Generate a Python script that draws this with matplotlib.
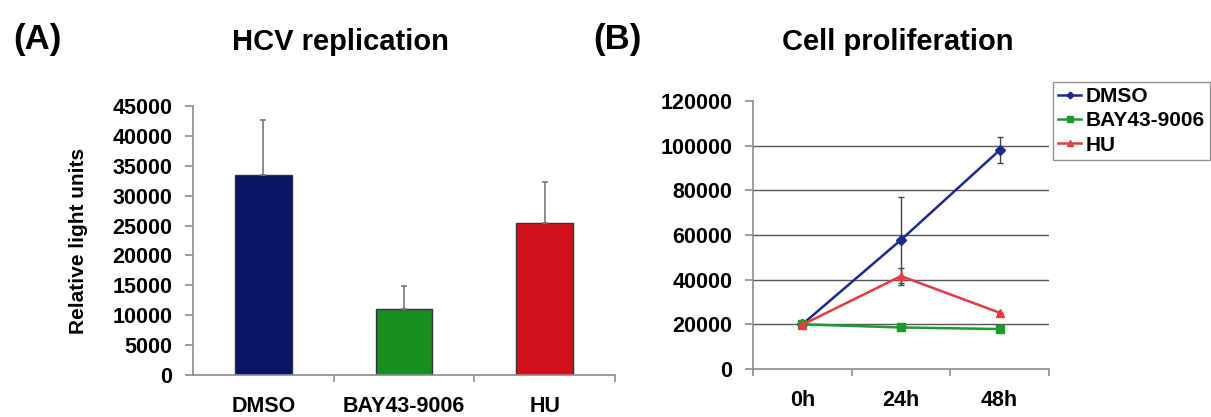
import matplotlib
matplotlib.use("Agg")
import matplotlib.pyplot as plt
from matplotlib.lines import Line2D
import numpy as np

plt.rcParams['font.family'] = ['Liberation Sans', 'DejaVu Sans']
plt.rcParams['font.weight'] = 'bold'

# === (A) HCV replication ===
groups = ["DMSO", "BAY43-9006", "HU"]
rlu = [33500, 11000, 25500]
rlu_err = [9200, 3900, 6800]
bar_colors = ["#0b1566", "#1b8e22", "#d0121c"]

# === (B) Cell proliferation ===
timepoints = ["0h", "24h", "48h"]
dmso = [20000, 57800, 98000]
dmso_err = [0, 19200, 5900]
bay = [20000, 18600, 17900]
bay_err = [0, 1000, 0]
hu = [19800, 41600, 25200]
hu_err = [0, 3800, 0]

fig = plt.figure(figsize=(12.11, 4.17), dpi=100)
axis_gray = "#8c8c8c"

# --- bar chart ---
ax1 = fig.add_axes([0.1594, 0.1007, 0.3484, 0.6451])
x = np.arange(len(groups))
ax1.bar(x, rlu, width=0.405, color=bar_colors, edgecolor="#333333", linewidth=1.0, zorder=2)
ax1.errorbar(x, rlu, yerr=[np.zeros(len(rlu)), rlu_err], fmt="none",
             ecolor="#777777", elinewidth=1.2, capsize=2.5, capthick=1.2, zorder=3)
ax1.set_xlim(-0.5, 2.5)
ax1.set_ylim(0, 45000)
ax1.set_yticks(np.arange(0, 45001, 5000))
ax1.set_xticks(x)
ax1.set_xticklabels(groups)
ax1.set_xticks([0.5, 1.5, 2.5], minor=True)
ax1.tick_params(axis="x", which="major", length=0, pad=15, labelsize=15.5)
ax1.tick_params(axis="x", which="minor", length=5, color=axis_gray, width=1.2)
ax1.tick_params(axis="y", length=6, color=axis_gray, width=1.2, pad=9, labelsize=15.5)
for s in ["top", "right"]:
    ax1.spines[s].set_visible(False)
for s in ["left", "bottom"]:
    ax1.spines[s].set_color(axis_gray)
    ax1.spines[s].set_linewidth(1.2)
fig.text(78 / 1211, 0.422, "Relative light units", rotation=90, ha="center", va="center",
         fontsize=15, fontweight="bold")

# --- line chart ---
ax2 = fig.add_axes([0.6218, 0.1151, 0.2444, 0.6427])
t = np.arange(len(timepoints))
for yy in range(20000, 100001, 20000):
    ax2.axhline(yy, color="#555555", linewidth=1.0, zorder=1)

series = [
    ("DMSO", dmso, dmso_err, "#1a2a8a", "D", 5),
    ("BAY43-9006", bay, bay_err, "#1c9a2a", "s", 6),
    ("HU", hu, hu_err, "#e53a40", "^", 6),
]
handles = []
for name, vals, err, col, mk, ms in series:
    ax2.errorbar(t, vals, yerr=err, color=col, marker=mk, markersize=ms,
                 linewidth=1.8, ecolor="#444444", elinewidth=1.0, capsize=2.5, zorder=3)
    handles.append(Line2D([], [], color=col, marker=mk, markersize=ms - 1.5,
                          linewidth=1.8, label=name))

ax2.set_xlim(-0.5, 2.5)
ax2.set_ylim(0, 120000)
ax2.set_yticks(np.arange(0, 120001, 20000))
ax2.set_xticks(t)
ax2.set_xticklabels(timepoints)
ax2.set_xticks([-0.5, 0.5, 1.5, 2.5], minor=True)
ax2.tick_params(axis="x", which="major", length=0, pad=15, labelsize=15.5)
ax2.tick_params(axis="x", which="minor", length=5, color=axis_gray, width=1.2)
ax2.tick_params(axis="y", length=6, color=axis_gray, width=1.2, pad=9, labelsize=15.5)
for s in ["top", "right"]:
    ax2.spines[s].set_visible(False)
for s in ["left", "bottom"]:
    ax2.spines[s].set_color(axis_gray)
    ax2.spines[s].set_linewidth(1.2)

leg = fig.legend(handles=handles, loc="upper left", bbox_to_anchor=(0.8695, 0.8034),
                 fontsize=15, frameon=True, fancybox=False, handlelength=1.1,
                 handletextpad=0.2, labelspacing=0.25, borderpad=0.25,
                 borderaxespad=0)
leg.get_frame().set_edgecolor("#777777")
leg.get_frame().set_linewidth(1.0)

# titles and panel letters
fig.text(340 / 1211, 0.90, "HCV replication", ha="center", va="center", fontsize=21, fontweight="bold")
fig.text(898 / 1211, 0.90, "Cell proliferation", ha="center", va="center", fontsize=21, fontweight="bold")
fig.text(37 / 1211, 0.905, "(A)", ha="center", va="center", fontsize=25, fontweight="bold")
fig.text(617 / 1211, 0.905, "(B)", ha="center", va="center", fontsize=25, fontweight="bold")

plt.savefig("out.png", dpi=100)
